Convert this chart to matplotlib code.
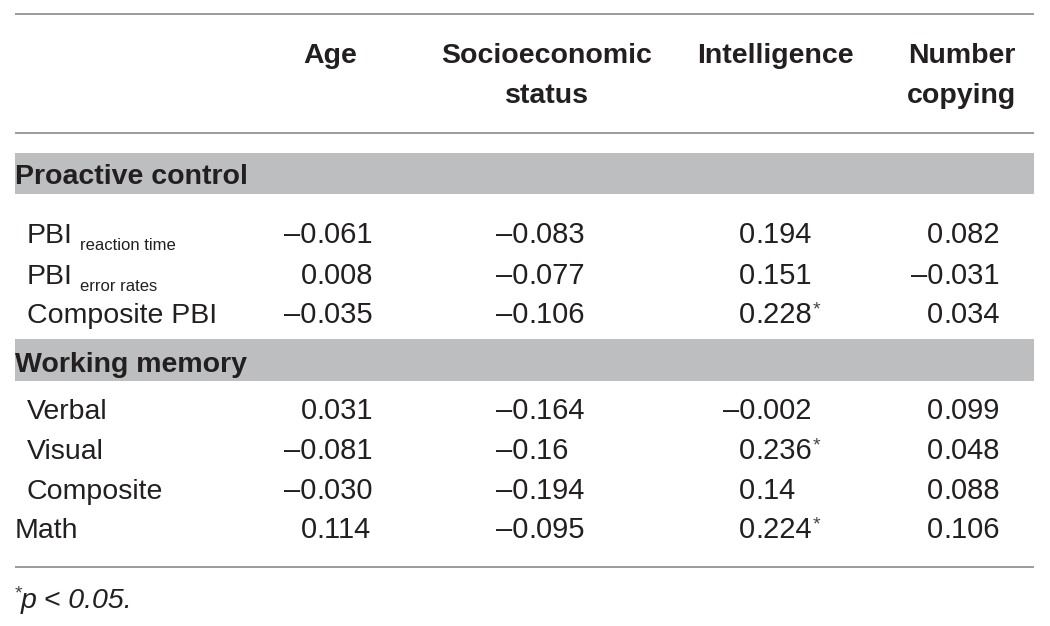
import matplotlib
matplotlib.use("Agg")
import matplotlib.pyplot as plt

plt.rcParams['font.family'] = ['Liberation Sans', 'DejaVu Sans']

# ---- data ----
columns = ["Age", "Socioeconomic\nstatus", "Intelligence", "Number\ncopying"]
sections = ["Proactive control", "Working memory"]
row_labels = ["PBI", "PBI", "Composite PBI", "Verbal", "Visual", "Composite", "Math"]
row_subs = ["reaction time", "error rates", "", "", "", "", ""]
row_indent = [True, True, True, True, True, True, False]
age = ["–0.061", "0.008", "–0.035", "0.031", "–0.081", "–0.030", "0.114"]
ses = ["–0.083", "–0.077", "–0.106", "–0.164", "–0.16", "–0.194", "–0.095"]
intelligence = ["0.194", "0.151", "0.228", "–0.002", "0.236", "0.14", "0.224"]
number_copying = ["0.082", "–0.031", "0.034", "0.099", "0.048", "0.088", "0.106"]
intelligence_sig = [False, False, True, False, True, False, True]
footnote = "p < 0.05."

# ---- layout (pixel coordinates) ----
W, H = 1050, 626
fig = plt.figure(figsize=(W / 100, H / 100), dpi=100)
ax = fig.add_axes([0, 0, 1, 1])
ax.set_xlim(0, W)
ax.set_ylim(H, 0)
ax.axis('off')

TXT = '#231f20'
BAND = '#bcbec0'
LINE = '#8a8a8a'
FS = 20.5
FSN = 21
left, right = 15, 1034

for y in [13.5, 133, 567]:
    ax.plot([left, right], [y, y], color=LINE, lw=1.2, solid_capstyle='butt')

# header
col_centers = [330.5, 546.5, 775.5, 962]
header_baselines = [63, 103]
for cx, name in zip(col_centers, columns):
    for i, part in enumerate(name.split("\n")):
        ax.text(cx, header_baselines[i], part, ha='center', va='baseline',
                fontsize=FS, fontweight='bold', color=TXT)

# section bands
bands = [(153, 194, 184), (339, 381, 372)]
for (y0, y1, yb), label in zip(bands, sections):
    ax.add_patch(plt.Rectangle((left, y0), right - left, y1 - y0,
                               facecolor=BAND, edgecolor='none'))
    ax.text(left, yb, label, ha='left', va='baseline', fontsize=FS,
            fontweight='bold', color=TXT)

row_baselines = [243, 284, 323, 419, 459, 499, 538]
dec_x = [316.5, 528.5, 755.5, 943.5]
data_cols = [age, ses, intelligence, number_copying]

fig.canvas.draw()
for r, yb in enumerate(row_baselines):
    x0 = 27 if row_indent[r] else left
    t = ax.text(x0, yb, row_labels[r], ha='left', va='baseline', fontsize=FS, color=TXT)
    if row_subs[r]:
        ax.annotate(row_subs[r], xy=(1, 0), xycoords=t, xytext=(5, -3),
                    textcoords='offset points', ha='left', va='bottom',
                    fontsize=12, color=TXT)
    for c, vals in enumerate(data_cols):
        s = vals[r]
        ip, fp = s.split(".")
        ax.text(dec_x[c], yb, ip, ha='right', va='baseline', fontsize=FSN, color=TXT)
        tf = ax.text(dec_x[c], yb, "." + fp, ha='left', va='baseline', fontsize=FSN, color=TXT)
        if c == 2 and intelligence_sig[r]:
            ax.annotate("*", xy=(1, 1), xycoords=tf, xytext=(0.5, 0),
                        textcoords='offset points', ha='left', va='top',
                        fontsize=14, color='#444444')

# footnote
ax.text(left - 0.5, 598, "*", ha='left', va='baseline', fontsize=14, color='#444444')
ax.text(21, 608, footnote, ha='left', va='baseline', fontsize=FS,
        fontstyle='italic', color=TXT)

fig.savefig("out.png", dpi=100, facecolor='white')
